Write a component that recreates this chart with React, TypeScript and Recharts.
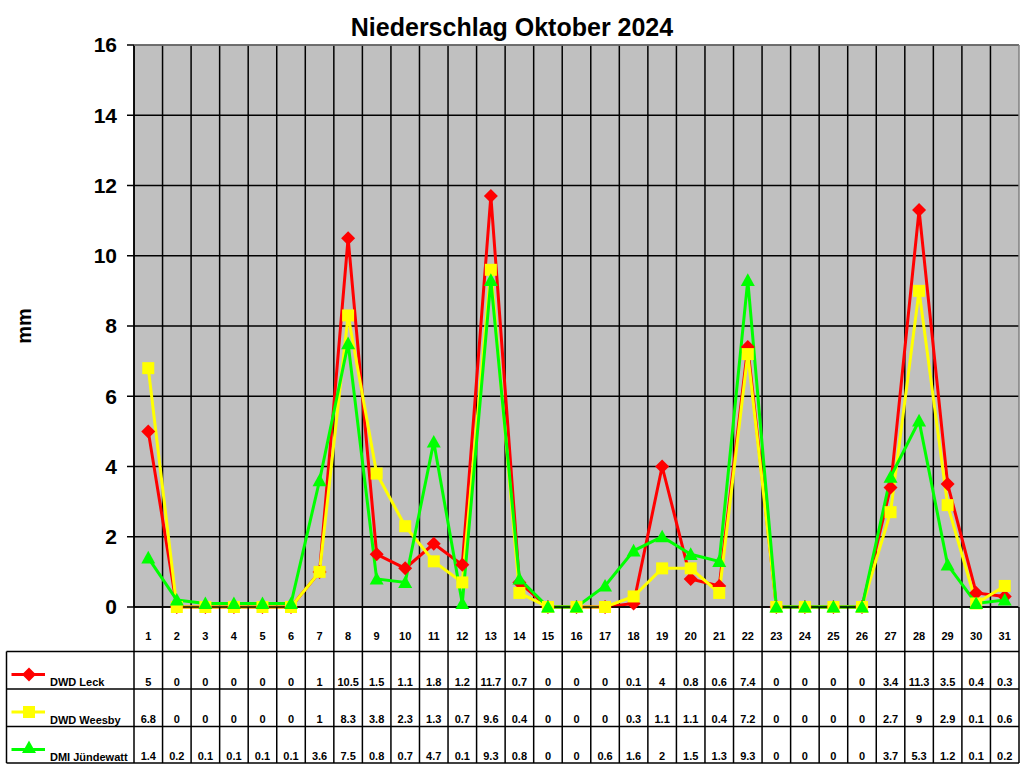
import React from "react";
import { LineChart, Line, XAxis, YAxis, CartesianGrid } from "recharts";

const days = [
  "1", "2", "3", "4", "5", "6", "7", "8", "9", "10", "11", "12", "13", "14", "15", "16",
  "17", "18", "19", "20", "21", "22", "23", "24", "25", "26", "27", "28", "29", "30", "31",
];
const leck = [5, 0, 0, 0, 0, 0, 1, 10.5, 1.5, 1.1, 1.8, 1.2, 11.7, 0.7, 0, 0, 0, 0.1, 4, 0.8, 0.6, 7.4, 0, 0, 0, 0, 3.4, 11.3, 3.5, 0.4, 0.3];
const weesby = [6.8, 0, 0, 0, 0, 0, 1, 8.3, 3.8, 2.3, 1.3, 0.7, 9.6, 0.4, 0, 0, 0, 0.3, 1.1, 1.1, 0.4, 7.2, 0, 0, 0, 0, 2.7, 9, 2.9, 0.1, 0.6];
const juendewatt = [1.4, 0.2, 0.1, 0.1, 0.1, 0.1, 3.6, 7.5, 0.8, 0.7, 4.7, 0.1, 9.3, 0.8, 0, 0, 0.6, 1.6, 2, 1.5, 1.3, 9.3, 0, 0, 0, 0, 3.7, 5.3, 1.2, 0.1, 0.2];
const yTicks = [0, 2, 4, 6, 8, 10, 12, 14, 16];

const seriesNames = ["DWD Leck", "DWD Weesby", "DMI Jündewatt"];
const seriesValues = [leck, weesby, juendewatt];

const data = days.map((d, i) => ({
  day: d,
  leck: leck[i],
  weesby: weesby[i],
  juendewatt: juendewatt[i],
}));

const FONT = "'Liberation Sans', Arial, sans-serif";
const W = 1024;
const H = 768;
const PLOT_LEFT = 134;
const PLOT_RIGHT = 1019;
const PLOT_TOP = 45;
const PLOT_BOTTOM = 607;
const HEADER_H = 44.5;
const ROW_H = [37.5, 37.5, 36.5];
const TABLE_LEFT = 6.5;

const RED = "#FF0000";
const YELLOW = "#FFFF00";
const GREEN = "#00FF00";

function Diamond({ cx, cy, s = 7, fill }: any) {
  return <polygon points={`${cx},${cy - s} ${cx + s},${cy} ${cx},${cy + s} ${cx - s},${cy}`} fill={fill} />;
}
function Square({ cx, cy, s = 6, fill }: any) {
  return <rect x={cx - s} y={cy - s} width={s * 2} height={s * 2} fill={fill} />;
}
function Triangle({ cx, cy, s = 7, fill }: any) {
  return <polygon points={`${cx},${cy - s} ${cx + s},${cy + s * 0.8} ${cx - s},${cy + s * 0.8}`} fill={fill} />;
}

const markers = [Diamond, Square, Triangle];
const colors = [RED, YELLOW, GREEN];

const dotFor = (Shape: any, fill: string, name: string) => (props: any) =>
  props.cx == null ? null : <Shape key={`${name}-${props.index}`} cx={props.cx} cy={props.cy} fill={fill} />;

const textStyle = { fontFamily: FONT, fontWeight: "bold" as const, fontSize: 11, fill: "#000" };

const headerTick = (props: any) => (
  <text x={props.x} y={props.y + 33} textAnchor="middle" style={textStyle}>
    {props.payload.value}
  </text>
);

const valueTick = (values: number[], dy: number) => (props: any) => (
  <text x={props.x} y={props.y + dy} textAnchor="middle" style={textStyle}>
    {values[props.index]}
  </text>
);

export default function App() {
  const colW = (PLOT_RIGHT - PLOT_LEFT) / days.length;
  const rowTops = [PLOT_BOTTOM + HEADER_H];
  ROW_H.forEach((h, i) => rowTops.push(rowTops[i] + h));
  const tableBottom = rowTops[rowTops.length - 1];

  return (
    <div style={{ position: "absolute", left: 0, top: 0, width: W, height: H, background: "#fff" }}>
      <LineChart
        width={W}
        height={H}
        data={data}
        margin={{ top: PLOT_TOP, right: W - PLOT_RIGHT, left: 0, bottom: H - tableBottom }}
      >
        <CartesianGrid
          fill="#C0C0C0"
          fillOpacity={1}
          stroke="#000"
          strokeWidth={1.5}
          verticalCoordinatesGenerator={({ offset }: any) =>
            days.map((_, i) => offset.left + (i * offset.width) / days.length)
          }
        />
        <XAxis
          dataKey="day"
          scale="band"
          height={HEADER_H}
          tickSize={0}
          tickMargin={0}
          axisLine={{ stroke: "#000", strokeWidth: 1.5 }}
          tickLine={false}
          tick={headerTick}
          interval={0}
        />
        <XAxis xAxisId="r1" dataKey="day" scale="band" height={ROW_H[0]} tickSize={0} tickMargin={0} axisLine={false} tickLine={false} tick={valueTick(leck, 34)} interval={0} />
        <XAxis xAxisId="r2" dataKey="day" scale="band" height={ROW_H[1]} tickSize={0} tickMargin={0} axisLine={false} tickLine={false} tick={valueTick(weesby, 33.5)} interval={0} />
        <XAxis xAxisId="r3" dataKey="day" scale="band" height={ROW_H[2]} tickSize={0} tickMargin={0} axisLine={false} tickLine={false} tick={valueTick(juendewatt, 33)} interval={0} />
        <YAxis
          width={PLOT_LEFT}
          domain={[0, 16]}
          ticks={yTicks}
          interval={0}
          tickSize={7}
          tickMargin={10}
          axisLine={{ stroke: "#000", strokeWidth: 1.5 }}
          tickLine={{ stroke: "#000", strokeWidth: 1.5 }}
          tick={{ fontFamily: FONT, fontWeight: "bold", fontSize: 21, fill: "#000" }}
        />
        <Line dataKey="leck" stroke={RED} strokeWidth={3} dot={dotFor(Diamond, RED, "l")} isAnimationActive={false} />
        <Line dataKey="weesby" stroke={YELLOW} strokeWidth={3} dot={dotFor(Square, YELLOW, "w")} isAnimationActive={false} />
        <Line dataKey="juendewatt" stroke={GREEN} strokeWidth={3} dot={dotFor(Triangle, GREEN, "j")} isAnimationActive={false} />
      </LineChart>

      <svg width={W} height={H} style={{ position: "absolute", left: 0, top: 0, pointerEvents: "none" }}>
        <text x={512} y={36} textAnchor="middle" style={{ fontFamily: FONT, fontWeight: "bold", fontSize: 25 }}>
          Niederschlag Oktober 2024
        </text>
        <text
          x={31}
          y={326}
          textAnchor="middle"
          transform="rotate(-90 31 326)"
          style={{ fontFamily: FONT, fontWeight: "bold", fontSize: 20 }}
        >
          mm
        </text>
        {/* plot frame top and right in grey */}
        <line x1={PLOT_LEFT} y1={PLOT_TOP} x2={PLOT_RIGHT} y2={PLOT_TOP} stroke="#808080" strokeWidth={1.5} />
        <line x1={PLOT_RIGHT} y1={PLOT_TOP} x2={PLOT_RIGHT} y2={PLOT_BOTTOM} stroke="#808080" strokeWidth={1.5} />
        {/* table lines */}
        {days.map((_, i) => (
          <line key={`v${i}`} x1={PLOT_LEFT + i * colW} y1={PLOT_BOTTOM} x2={PLOT_LEFT + i * colW} y2={tableBottom} stroke="#000" strokeWidth={1.5} />
        ))}
        <line x1={PLOT_RIGHT} y1={PLOT_BOTTOM} x2={PLOT_RIGHT} y2={tableBottom} stroke="#000" strokeWidth={1.5} />
        <line x1={TABLE_LEFT} y1={rowTops[0]} x2={TABLE_LEFT} y2={tableBottom} stroke="#000" strokeWidth={1.5} />
        {rowTops.map((y, i) => (
          <line key={`h${i}`} x1={TABLE_LEFT} y1={y} x2={PLOT_RIGHT} y2={y} stroke="#000" strokeWidth={1.5} />
        ))}
        {/* legend keys */}
        {seriesNames.map((name, i) => {
          const Shape = markers[i];
          const ly = rowTops[i] + 23;
          return (
            <g key={name}>
              <line x1={11.5} y1={ly} x2={45} y2={ly} stroke={colors[i]} strokeWidth={3} />
              <Shape cx={29} cy={i === 2 ? ly - 2 : ly} fill={colors[i]} />
              <text x={50} y={rowTops[i] + 34.5} style={textStyle}>
                {name}
              </text>
            </g>
          );
        })}
      </svg>
    </div>
  );
}
